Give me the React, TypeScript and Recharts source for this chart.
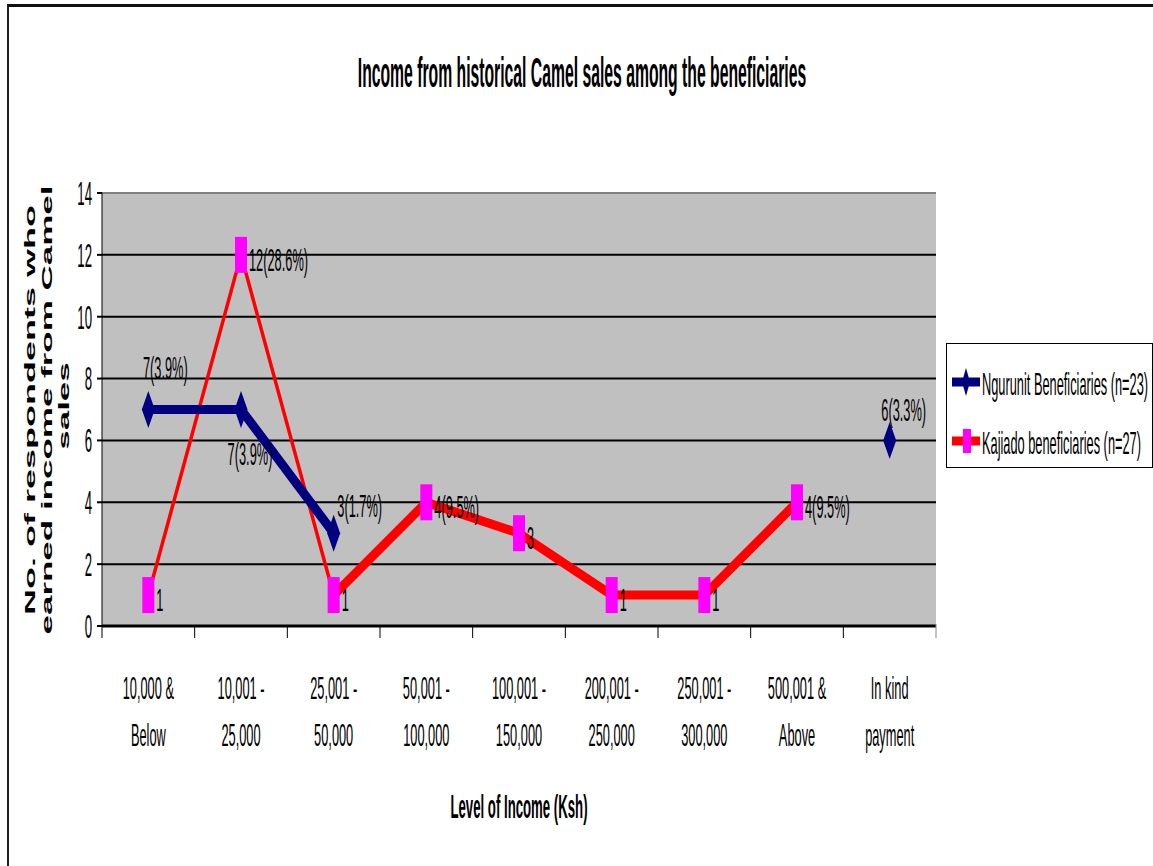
import React from 'react';
import { LineChart, Line, XAxis, YAxis, CartesianGrid, ReferenceLine } from 'recharts';

const incomeBands = [
  '10,000 &\nBelow',
  '10,001 -\n25,000',
  '25,001 -\n50,000',
  '50,001 -\n100,000',
  '100,001 -\n150,000',
  '200,001 -\n250,000',
  '250,001 -\n300,000',
  '500,001 &\nAbove',
  'In kind\npayment',
];
const ngurunitCounts = [7, 7, 3, null, null, null, null, null, 6];
const ngurunitShares = ['3.9%', '3.9%', '1.7%', null, null, null, null, null, '3.3%'];
const kajiadoCounts = [1, 12, 1, 4, 3, 1, 1, 4, null];
const kajiadoShares = [null, '28.6%', null, '9.5%', null, null, null, '9.5%', null];
const yTicks = [0, 2, 4, 6, 8, 10, 12, 14];

// the first stretch of the Kajiado line is drawn thin, the rest heavy
const THIN_UNTIL = 2;

const label = (count, share) =>
  count == null ? null : share ? `${count}(${share})` : `${count}`;

const rows = incomeBands.map((band, i) => ({
  band,
  ngurunit: ngurunitCounts[i],
  ngLabel: label(ngurunitCounts[i], ngurunitShares[i]),
  kajiado: kajiadoCounts[i],
  kajiadoThin: i <= THIN_UNTIL ? kajiadoCounts[i] : null,
  kajiadoThick: i >= THIN_UNTIL ? kajiadoCounts[i] : null,
  kjLabel: label(kajiadoCounts[i], kajiadoShares[i]),
}));

const FONT = '"Liberation Sans", Arial, sans-serif';
const SX = 0.4; // horizontal squeeze of all lettering
const NAVY = '#000080';
const RED = '#FF0000';
const MAGENTA = '#FF00FF';

const W = 1153;
const H = 866;
const PLOT_LEFT = 102;
const PLOT_RIGHT = 936;
const PLOT_TOP = 193;
const PLOT_BOTTOM = 626;
const BAND = (PLOT_RIGHT - PLOT_LEFT) / incomeBands.length;

function Sq({ x, y, size = 32, weight = 'normal', anchor = 'middle', rotate = 0, sx = SX, children }) {
  return (
    <text
      transform={`translate(${x},${y}) scale(${sx},1)${rotate ? ` rotate(${rotate})` : ''}`}
      textAnchor={anchor}
      dominantBaseline="central"
      fontFamily={FONT}
      fontSize={size}
      fontWeight={weight}
      fill="#000"
    >
      {children}
    </text>
  );
}

// offsets of the Ngurunit value labels from their points
const ngLabelOffset = {
  0: [17, -42],
  1: [9, 44],
  2: [26, -27],
  8: [14, -31],
};

function NgurunitDot(props) {
  const { cx, cy, index, payload } = props;
  if (cy == null || payload.ngurunit == null) return <g key={`ng-${index}`} />;
  const [dx, dy] = ngLabelOffset[index] || [14, -30];
  return (
    <g key={`ng-${index}`}>
      <path d={`M${cx},${cy - 18.5} L${cx + 6.5},${cy} L${cx},${cy + 18.5} L${cx - 6.5},${cy} Z`} fill={NAVY} />
      <Sq x={cx + dx} y={cy + dy}>{payload.ngLabel}</Sq>
    </g>
  );
}

function KajiadoDot(props) {
  const { cx, cy, index, payload } = props;
  if (cy == null || payload.kajiado == null) return <g key={`kj-${index}`} />;
  return (
    <g key={`kj-${index}`}>
      <rect x={cx - 6} y={cy - 18} width={12} height={36} fill={MAGENTA} />
      <Sq x={cx + 8} y={cy + 5} anchor="start">{payload.kjLabel}</Sq>
    </g>
  );
}

function BandTick(props) {
  const { x, payload } = props;
  const [top, bottom] = String(payload.value).split('\n');
  const left = x - BAND / 2;
  const last = payload.index === incomeBands.length - 1;
  return (
    <g>
      <line x1={left} x2={left} y1={PLOT_BOTTOM} y2={PLOT_BOTTOM + 12} stroke="#000" />
      {last && (
        <line x1={left + BAND} x2={left + BAND} y1={PLOT_BOTTOM - 2} y2={PLOT_BOTTOM + 12} stroke="#888" />
      )}
      <Sq x={x} y={688}>{top}</Sq>
      <Sq x={x} y={735}>{bottom}</Sq>
    </g>
  );
}

function CountTick(props) {
  const { y, payload } = props;
  return <Sq x={92} y={y} size={33} anchor="end">{payload.value}</Sq>;
}

function Legend() {
  return (
    <div
      style={{
        position: 'absolute',
        left: 946,
        top: 343,
        width: 205,
        height: 123,
        border: '1.5px solid #000',
        background: '#fff',
      }}
    >
      <svg width={205} height={123}>
        <line x1={5} x2={33} y1={38} y2={38} stroke={NAVY} strokeWidth={9} />
        <path d="M19,24 L23,38 L19,52 L15,38 Z" fill={NAVY} />
        <Sq x={35} y={40} anchor="start">Ngurunit Beneficiaries (n=23)</Sq>
        <line x1={5} x2={33} y1={97} y2={97} stroke={RED} strokeWidth={9} />
        <rect x={16} y={85} width={8} height={24} fill={MAGENTA} />
        <Sq x={35} y={99} anchor="start">Kajiado beneficiaries (n=27)</Sq>
      </svg>
    </div>
  );
}

export default function App() {
  return (
    <div style={{ position: 'absolute', left: 0, top: 0, width: W, height: H, background: '#fff', overflow: 'hidden' }}>
      <div
        style={{
          position: 'absolute',
          left: 7,
          top: 4,
          width: W + 20,
          height: H + 20,
          borderTop: '3px solid #111',
          borderLeft: '2px solid #222',
        }}
      />
      <div style={{ position: 'absolute', left: 0, top: 0 }}>
        <LineChart
          width={W}
          height={H}
          data={rows}
          margin={{ top: PLOT_TOP, right: W - PLOT_RIGHT, bottom: 120, left: 42 }}
        >
          <CartesianGrid vertical={false} stroke="#000" strokeWidth={2} fill="#C0C0C0" />
          <ReferenceLine y={14} stroke="#808080" strokeWidth={2} />
          <XAxis
            dataKey="band"
            interval={0}
            height={120}
            padding={{ left: BAND / 2, right: BAND / 2 }}
            axisLine={{ stroke: '#000', strokeWidth: 3 }}
            tickLine={false}
            tick={(p) => <BandTick {...p} />}
          />
          <YAxis
            domain={[0, 14]}
            ticks={yTicks}
            width={60}
            axisLine={{ stroke: '#000' }}
            tickLine={{ stroke: '#000', strokeWidth: 2 }}
            tickSize={5}
            tick={(p) => <CountTick {...p} />}
          />
          <Line
            dataKey="kajiadoThin"
            stroke={RED}
            strokeWidth={3.5}
            dot={false}
            activeDot={false}
            isAnimationActive={false}
          />
          <Line
            dataKey="kajiadoThick"
            stroke={RED}
            strokeWidth={9}
            dot={false}
            activeDot={false}
            isAnimationActive={false}
          />
          <Line
            dataKey="ngurunit"
            stroke={NAVY}
            strokeWidth={9}
            dot={(p) => <NgurunitDot {...p} />}
            activeDot={false}
            isAnimationActive={false}
          />
          <Line
            dataKey="kajiado"
            stroke="none"
            dot={(p) => <KajiadoDot {...p} />}
            activeDot={false}
            isAnimationActive={false}
          />
        </LineChart>
      </div>
      <svg width={W} height={H} style={{ position: 'absolute', left: 0, top: 0, pointerEvents: 'none' }}>
        <Sq x={582} y={72} size={43} sx={0.366} weight="bold">
          Income from historical Camel sales among the beneficiaries
        </Sq>
        <Sq x={30} y={410} size={36} weight="bold" rotate={-90}>
          No.  of  respondents  who
        </Sq>
        <Sq x={47} y={410} size={35} weight="bold" rotate={-90}>
          earned income from Camel
        </Sq>
        <Sq x={64} y={406} size={35} weight="bold" rotate={-90}>
          sales
        </Sq>
        <Sq x={519} y={806} size={33} weight="bold">
          Level of Income (Ksh)
        </Sq>
      </svg>
      <Legend />
    </div>
  );
}
